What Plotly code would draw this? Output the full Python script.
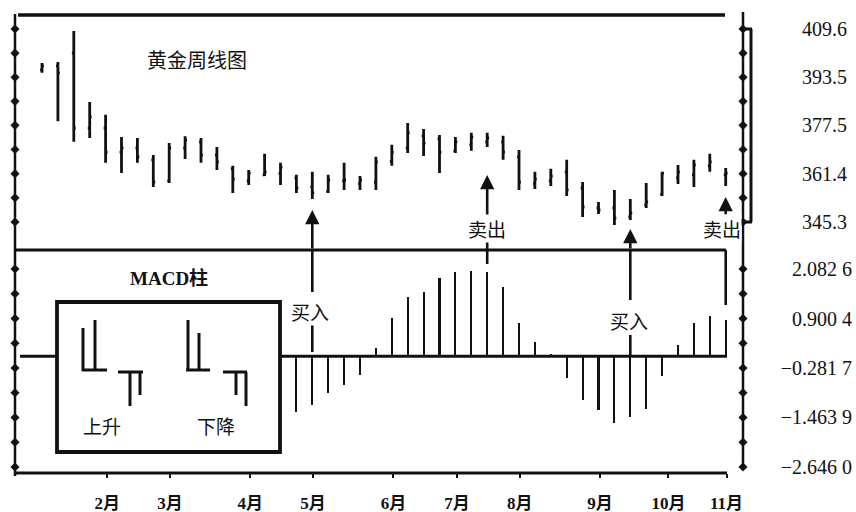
import plotly.graph_objects as go

W, H = 856, 512

# ---------------- data ----------------
weeks = list(range(44))
price_open = [396.0, 397.3, 401.6, 376.6, 376.6, 368.6, 370.0, 366.0, 359.0, 370.0,
              372.0, 367.6, 363.0, 359.0, 361.0, 361.5, 360.0, 357.0, 355.5, 359.0,
              358.0, 358.6, 365.5, 370.0, 374.0, 373.0, 369.0, 371.0, 372.0, 372.0,
              367.0, 358.0, 359.0, 362.0, 356.6, 350.0, 350.0, 347.0, 351.0, 354.5,
              360.0, 361.0, 364.0, 361.0]
price_high = [398.3, 398.6, 408.9, 385.3, 381.0, 373.6, 373.3, 367.6, 371.6, 373.9,
              373.3, 370.3, 364.0, 362.6, 368.0, 365.0, 361.0, 362.0, 361.0, 365.0,
              360.6, 367.0, 371.0, 378.3, 376.3, 374.3, 373.6, 375.0, 375.0, 374.0,
              369.3, 362.0, 363.0, 366.0, 358.6, 352.0, 356.0, 353.0, 358.3, 362.0,
              364.3, 366.0, 368.0, 363.3]
price_low = [395.0, 378.9, 372.0, 373.3, 365.0, 361.6, 365.0, 357.0, 358.3, 366.3,
             365.0, 362.6, 355.0, 357.6, 360.6, 357.6, 355.0, 353.0, 355.0, 356.0,
             356.0, 356.0, 364.0, 368.3, 367.3, 361.6, 368.3, 369.0, 370.3, 366.0,
             356.0, 356.3, 357.3, 354.0, 347.0, 348.0, 344.3, 346.0, 350.0, 354.0,
             358.0, 357.0, 362.0, 357.3]
price_close = [397.3, 395.0, 376.6, 380.3, 368.6, 370.0, 367.0, 358.6, 370.0, 372.6,
               367.6, 365.3, 359.6, 361.6, 362.0, 363.6, 356.6, 355.0, 359.3, 359.3,
               359.3, 365.3, 368.6, 375.0, 371.6, 368.6, 372.0, 373.6, 373.3, 368.6,
               358.6, 359.6, 360.6, 356.0, 350.3, 349.3, 346.6, 348.3, 352.0, 361.6,
               362.0, 364.3, 365.3, 361.6]

macd_weeks = list(range(16, 44))
macd_hist = [-1.33, -1.17, -0.88, -0.69, -0.45, 0.20, 0.91, 1.41, 1.53, 1.87,
             2.01, 2.04, 2.01, 1.66, 0.79, 0.34, 0.05, -0.52, -1.05, -1.28,
             -1.60, -1.45, -1.26, -0.47, 0.27, 0.79, 0.96, 0.86]

month_pos = [4.1, 8.05, 13.1, 17.05, 22.1, 26.1, 30.05, 35.1, 39.4, 43.05]
month_labels = ["2月", "3月", "4月", "5月", "6月", "7月", "8月", "9月", "10月", "11月"]

price_tick_vals = [409.6, 393.5, 377.5, 361.4, 345.3]
price_tick_text = ["409.6", "393.5", "377.5", "361.4", "345.3"]
macd_tick_vals = [2.0826, 0.9004, -0.2817, -1.4639, -2.6460]
macd_tick_text = ["2.082 6", "0.900 4", "\u22120.281 7", "\u22121.463 9", "\u22122.646 0"]

signal_weeks = [17, 28, 37, 43]
signal_labels = ["买入", "卖出", "买入", "卖出"]

# ---------------- geometry helpers ----------------
PXW = 15.9   # pixels per week
X0 = 42.0    # pixel of week 0
xmin = -X0 / PXW
xmax = xmin + W / PXW

P_REF, P_PY, P_SC = 345.3, 222.0, 3.0016   # price scale
M_ZERO_PY, M_SC = 356.2, 41.87             # macd scale


def xd(px):
    return (px - X0) / PXW


def xp(px):
    return px / W


def yp(py):
    return 1 - py / H


def price_at(py):
    return P_REF + (P_PY - py) / P_SC


y_range = [price_at(250), price_at(0)]
y2_range = [(M_ZERO_PY - 473) / M_SC, (M_ZERO_PY - 250) / M_SC]

INK = "#111111"
SERIF = "Liberation Serif, Noto Sans CJK SC, serif"
CJK = "Noto Sans CJK SC, Liberation Serif, sans-serif"


def mids(v):
    s = sorted(v)
    out = list(s)
    for a, b in zip(s[:-1], s[1:]):
        out.append((a + b) / 2)
    return sorted(out)


price_dots = mids(price_tick_vals)
macd_dots = mids(macd_tick_vals)

fig = go.Figure()

fig.add_trace(go.Ohlc(
    x=weeks, open=price_open, high=price_high, low=price_low, close=price_close,
    xaxis="x", yaxis="y", tickwidth=0.12,
    increasing=dict(line=dict(color=INK, width=2.8)),
    decreasing=dict(line=dict(color=INK, width=2.8)),
    hoverinfo="skip", showlegend=False))

fig.add_trace(go.Bar(
    x=macd_weeks, y=macd_hist, width=0.13, xaxis="x", yaxis="y2",
    marker=dict(color=INK, line=dict(width=0)), showlegend=False, hoverinfo="skip"))

for xpix in (15, 743):
    fig.add_trace(go.Scatter(x=[xd(xpix)] * len(price_dots), y=price_dots, mode="markers",
                             xaxis="x", yaxis="y", cliponaxis=False,
                             marker=dict(symbol="diamond", size=7, color=INK),
                             showlegend=False, hoverinfo="skip"))
    fig.add_trace(go.Scatter(x=[xd(xpix)] * len(macd_dots), y=macd_dots, mode="markers",
                             xaxis="x", yaxis="y2", cliponaxis=False,
                             marker=dict(symbol="diamond", size=7, color=INK),
                             showlegend=False, hoverinfo="skip"))

shapes = []


def pline(x0, y0, x1, y1, w=3):
    shapes.append(dict(type="line", xref="paper", yref="paper",
                       x0=xp(x0), y0=yp(y0), x1=xp(x1), y1=yp(y1),
                       line=dict(color=INK, width=w)))


# frame
pline(18, 15, 725, 15, 3.5)
pline(15, 250, 726, 250, 3.2)
pline(15, 473, 727, 473, 3.2)
pline(15, 14, 15, 476, 2.5)
pline(743, 12, 743, 470, 2.5)
# right bracket
pline(743, 29, 752, 29, 3)
pline(751, 29, 751, 222, 3)
pline(743, 222, 752, 222, 3)
# macd zero line
shapes.append(dict(type="line", xref="paper", yref="y2", x0=xp(20), x1=xp(727), y0=0, y1=0,
                   line=dict(color=INK, width=3), layer="below"))
# legend box
shapes.append(dict(type="rect", xref="paper", yref="paper", x0=xp(57), x1=xp(280),
                   y0=yp(302), y1=yp(452), fillcolor="white", line=dict(color=INK, width=3.8)))
# legend icons: 上升
pline(83, 328, 83, 371)
pline(95, 320, 95, 371)
pline(82, 370, 107, 370)
pline(118, 372, 143, 372)
pline(130, 372, 130, 406)
pline(140, 372, 140, 395)
# 下降
pline(188, 320, 188, 371)
pline(199, 333, 199, 371)
pline(186, 370, 210, 370)
pline(223, 372, 247, 372)
pline(236, 372, 236, 395)
pline(246, 372, 246, 406)


def wline(week, y0, y1, w=2.6):
    shapes.append(dict(type="line", xref="x", yref="paper", x0=week, x1=week,
                       y0=yp(y0), y1=yp(y1), line=dict(color=INK, width=w)))


# signal guide lines
wline(signal_weeks[0], 250, 292)
wline(signal_weeks[0], 322, 352)
wline(signal_weeks[1], 238, 264)
wline(signal_weeks[2], 250, 300)
wline(signal_weeks[2], 335, 357)
wline(signal_weeks[3], 250, 305)

annotations = []
# arrows (tip pixel, tail pixel)
arrow_px = [(210, 250), (175, 217), (229, 250), (197, 216)]
for wk, (tip, tail) in zip(signal_weeks, arrow_px):
    annotations.append(dict(x=wk, y=price_at(tip), xref="x", yref="y", ax=0, ay=tail - tip,
                            showarrow=True, arrowhead=2, arrowsize=1.1, arrowwidth=2.6,
                            arrowcolor=INK, text="", standoff=0))

label_py = [311, 228, 320, 228]
label_shift = [-2, 0, -1, -4]
for wk, txt, py, sh in zip(signal_weeks, signal_labels, label_py, label_shift):
    annotations.append(dict(x=wk, y=yp(py), xref="x", yref="paper", text=txt, showarrow=False,
                            xanchor="center", yanchor="middle",
                            xshift=sh, font=dict(family=CJK, size=19, color=INK),
                            bgcolor="white", borderpad=0))


def ptext(px, py, txt, size, family=CJK, weight="normal"):
    annotations.append(dict(x=xp(px), y=yp(py), xref="paper", yref="paper", text=txt,
                            showarrow=False, xanchor="center", yanchor="middle",
                            font=dict(family=family, size=size, color=INK, weight=weight)))


ptext(197, 59, "黄金周线图", 20)
ptext(169, 278, "MACD柱", 19, SERIF, "bold")
ptext(102, 425, "上升", 19)
ptext(216, 425, "下降", 19)

fig.update_layout(
    width=W, height=H, margin=dict(l=0, r=0, t=0, b=0, autoexpand=False),
    paper_bgcolor="white", plot_bgcolor="rgba(0,0,0,0)",
    showlegend=False, bargap=0,
    xaxis=dict(range=[xmin, xmax], domain=[0, 1], anchor="y2", automargin=False,
               tickvals=month_pos, ticktext=month_labels, ticks="outside", ticklen=4,
               tickwidth=2, tickcolor=INK, showline=False, showgrid=False, zeroline=False,
               ticklabelstandoff=11,
               tickfont=dict(family=SERIF, size=17, color=INK, weight="bold"),
               rangeslider=dict(visible=False), fixedrange=True),
    yaxis=dict(range=y_range, domain=[yp(250), 1], anchor="free", position=xp(847),
               side="left", automargin=False,
               tickvals=price_tick_vals, ticktext=price_tick_text, ticks="",
               showline=False, showgrid=False, zeroline=False,
               tickfont=dict(family=SERIF, size=20, color=INK)),
    yaxis2=dict(range=y2_range, domain=[yp(473), yp(250)], anchor="free", position=xp(852),
                side="left", automargin=False,
                tickvals=macd_tick_vals, ticktext=macd_tick_text, ticks="",
                showline=False, showgrid=False, zeroline=False,
                tickfont=dict(family=SERIF, size=20, color=INK)),
    shapes=shapes, annotations=annotations,
)

fig.write_html("out.html", config={"displayModeBar": False},
               post_script="document.body.style.margin='0';document.body.style.overflow='hidden';")
